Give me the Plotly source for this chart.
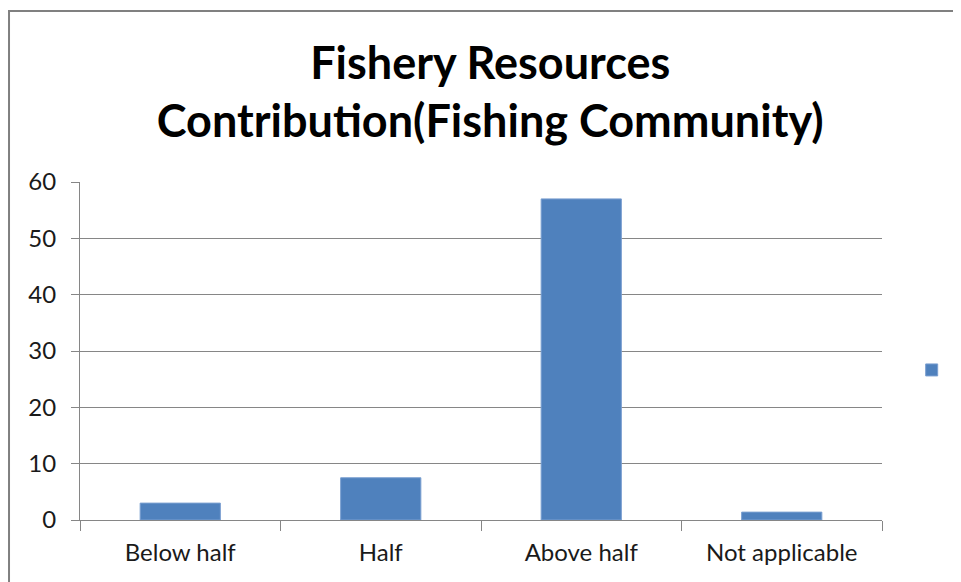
import plotly.graph_objects as go

categories = ['Below half', 'Half', 'Above half', 'Not applicable']
values = [3, 7.5, 57, 1.4]
y_ticks = [0, 10, 20, 30, 40, 50, 60]

fig = go.Figure()
fig.add_trace(go.Bar(x=categories, y=values, name='', width=0.4,
                     marker=dict(color='#4F81BD', line=dict(color='#7A9FD0', width=1)),
                     showlegend=True))

grid = '#868686'
# the page adds an 8px body margin, so the figure is shifted by 8px
fig.update_layout(
    width=953, height=574,
    margin=dict(l=72, r=79, t=174, b=62, autoexpand=False),
    paper_bgcolor='white', plot_bgcolor='white',
    font=dict(family='Lato, Open Sans, sans-serif', size=24, color='#1a1a1a'),
    title=dict(text='<b>Fishery Resources<br>Contribution(Fishing Community)</b>',
               x=0.506, xref='container', xanchor='center',
               y=0.877, yref='container', yanchor='middle',
               font=dict(size=45, color='#000000')),
    bargap=0.6,
    xaxis=dict(showline=True, linecolor=grid, linewidth=1,
               ticks='outside', tickson='boundaries', ticklen=10, tickcolor=grid,
               ticklabelstandoff=11, showgrid=False),
    yaxis=dict(range=[0, 60], tickvals=y_ticks, showline=True, linecolor=grid, linewidth=1,
               showgrid=True, gridcolor=grid, gridwidth=1, zeroline=False,
               ticks='outside', ticklen=8, tickcolor=grid, ticklabelstandoff=10),
    legend=dict(x=1.037, y=0.444, xanchor='left', yanchor='middle',
                font=dict(size=1), bgcolor='rgba(0,0,0,0)'),
    # outer chart frame: only the left and top edges are visible in the crop
    shapes=[dict(type='path', xref='paper', yref='paper',
                 path='M -0.0885,-0.3 L -0.0885,1.506 L 1.2,1.506',
                 line=dict(color='#808080', width=2), layer='below')],
)

fig.write_html('out.html')
